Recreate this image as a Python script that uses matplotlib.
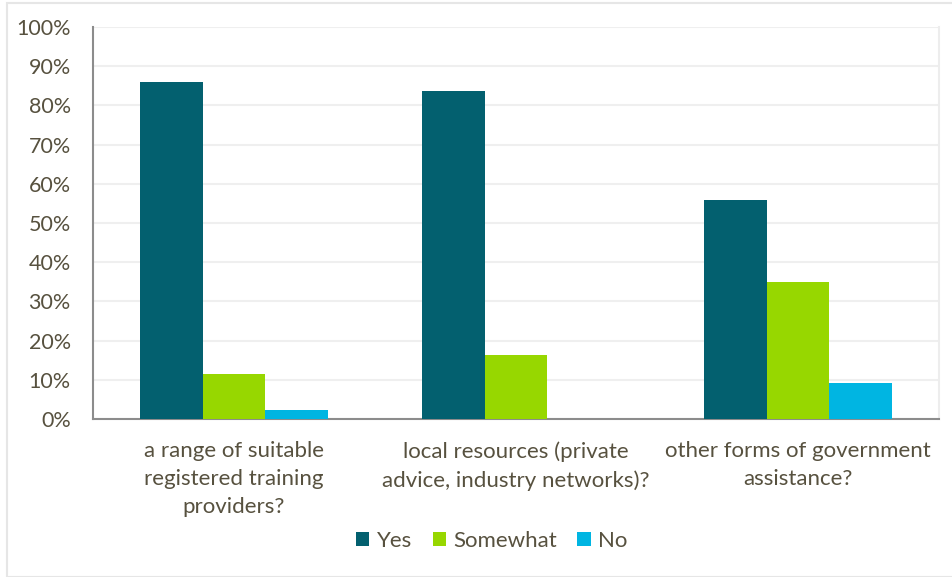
import matplotlib
matplotlib.use("Agg")
import matplotlib.pyplot as plt
import numpy as np
from matplotlib.patches import Rectangle
from matplotlib.ticker import FuncFormatter, MultipleLocator

# survey answers, share of respondents (%)
categories = ["a range of suitable\nregistered training\nproviders?",
              "local resources (private\nadvice, industry networks)?",
              "other forms of government\nassistance?"]
series_names = ["Yes", "Somewhat", "No"]
yes_vals = [86.0, 83.7, 55.8]
somewhat_vals = [11.6, 16.3, 34.9]
no_vals = [2.3, 0.0, 9.3]

colours = ["#03606F", "#97D700", "#00B5E2"]
text_col = "#57513F"

plt.rcParams["font.family"] = ["Lato", "DejaVu Sans"]

fig = plt.figure(figsize=(9.53, 5.77), dpi=100)
fig.patch.set_facecolor("white")
# light frame around the whole chart
fig.add_artist(Rectangle((7 / 953, 0), 1.0, 1 - 3 / 577, transform=fig.transFigure,
                         fill=False, edgecolor="#E6E6E6", linewidth=1.5))

ax = fig.add_axes([93 / 953, 1 - 419 / 577, (939 - 93) / 953, (419 - 27) / 577])

x = np.arange(len(categories))
w = 0.222
for i, vals in enumerate([yes_vals, somewhat_vals, no_vals]):
    ax.bar(x + (i - 1) * w, vals, width=w, color=colours[i],
           label=series_names[i], zorder=3)

ax.set_xlim(-0.5, len(categories) - 0.5)
ax.set_ylim(0, 100)
ax.yaxis.set_major_locator(MultipleLocator(10))
ax.yaxis.set_major_formatter(FuncFormatter(lambda v, p: f"{v:.0f}%"))
ax.grid(axis="y", color="#EFEFEF", linewidth=1.5, zorder=0)
ax.set_axisbelow(True)

ax.set_xticks(x)
ax.set_xticklabels(categories, fontsize=16, color=text_col, linespacing=1.5)
ax.tick_params(axis="x", length=0, pad=16)
ax.tick_params(axis="y", length=0, pad=16, labelsize=15.5, labelcolor=text_col)

for side in ["left", "bottom"]:
    ax.spines[side].set_color("#8C8C8C")
    ax.spines[side].set_linewidth(1.5)
ax.spines["top"].set_visible(False)
ax.spines["right"].set_color("#EDEDED")
ax.spines["right"].set_linewidth(1.5)

leg = fig.legend(loc="center", bbox_to_anchor=(492 / 953, 1 - 541 / 577), ncol=3,
                 frameon=False, fontsize=16, handlelength=0.6, handleheight=0.6,
                 handletextpad=0.35, columnspacing=0.9)
for t in leg.get_texts():
    t.set_color(text_col)

fig.savefig("out.png", dpi=100, facecolor="white")
